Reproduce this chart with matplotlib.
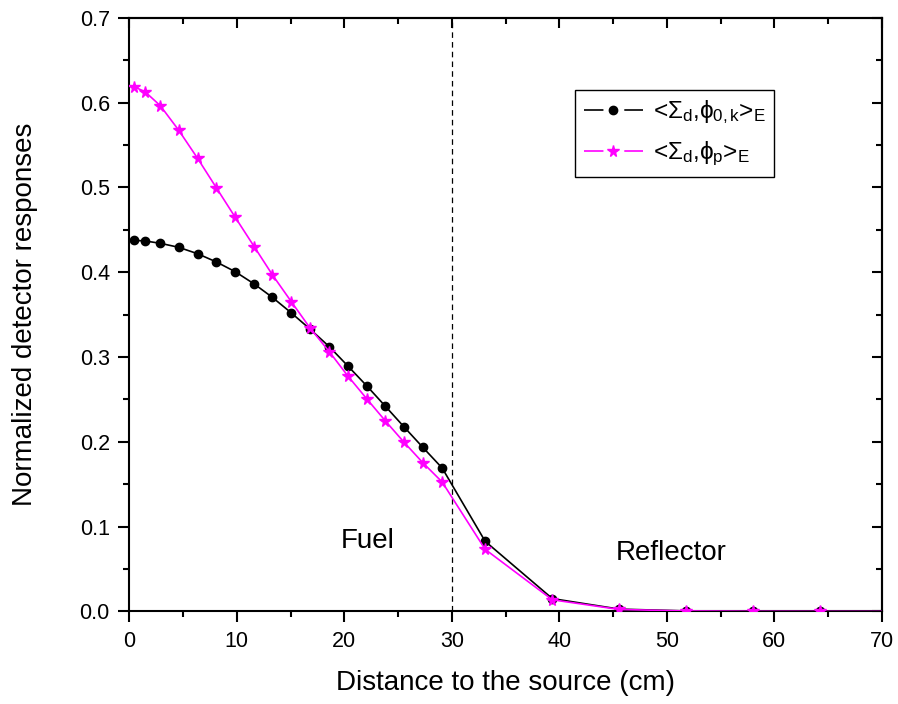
import numpy as np
import matplotlib
matplotlib.use('Agg')
import matplotlib.pyplot as plt
from matplotlib.lines import Line2D
from matplotlib.ticker import MultipleLocator

plt.rcParams['font.family'] = ['Liberation Sans', 'DejaVu Sans']
plt.rcParams['mathtext.fontset'] = 'custom'
plt.rcParams['mathtext.rm'] = 'Liberation Sans'
plt.rcParams['mathtext.it'] = 'Liberation Sans'
plt.rcParams['lines.scale_dashes'] = False

# distance to source (cm)
x_fuel = [0.46, 1.49, 2.88, 4.58, 6.35, 8.11, 9.85, 11.62, 13.3, 15.06,
          16.83, 18.6, 20.33, 22.1, 23.82, 25.56, 27.3, 29.1]
x_refl = [33.1, 39.35, 45.58, 51.81, 58.04, 64.27, 70.0]
distance = x_fuel + x_refl

# <Sigma_d, phi_0,k>_E
resp_k = [0.4377, 0.4369, 0.4342, 0.4295, 0.4219, 0.4121, 0.4007, 0.3862, 0.3705, 0.3522,
          0.3328, 0.3123, 0.2895, 0.2659, 0.2420, 0.2176, 0.1936, 0.1692,
          0.0828, 0.0152, 0.0028, 0.0007, 0.0003, 0.0001, 0.0]
# <Sigma_d, phi_p>_E
resp_p = [0.6189, 0.6126, 0.5965, 0.5678, 0.5344, 0.4994, 0.4649, 0.4302, 0.3972, 0.3655,
          0.3340, 0.3064, 0.2777, 0.2506, 0.2247, 0.1995, 0.1755, 0.1527,
          0.0733, 0.0138, 0.0024, 0.0006, 0.0002, 0.0001, 0.0]

label_k = r'<$\Sigma_\mathrm{d}$,$\phi_\mathrm{0,k}$>$_\mathrm{E}$'
label_p = r'<$\Sigma_\mathrm{d}$,$\phi_\mathrm{p}$>$_\mathrm{E}$'

# no marker on the end point at the right edge
marks = list(range(len(distance) - 1))

fig = plt.figure(figsize=(8.98, 7.04), dpi=100)
ax = fig.add_axes([0.144, 0.1314, 0.838, 0.8432])

ax.plot(distance, resp_k, color='black', lw=1.2, marker='o', markersize=6,
        markevery=marks, zorder=3)
ax.plot(distance, resp_p, color='magenta', lw=1.2, marker='*', markersize=8.5,
        markevery=marks, zorder=4)

ax.axvline(30, color='black', ls='--', lw=0.9, dashes=(4, 3))

ax.text(22.2, 0.075, 'Fuel', fontsize=20, ha='center', va='baseline')
ax.text(50.45, 0.061, 'Reflector', fontsize=20, ha='center', va='baseline')

ax.set_xlim(0, 70)
ax.set_ylim(0, 0.7)
ax.xaxis.set_major_locator(MultipleLocator(10))
ax.xaxis.set_minor_locator(MultipleLocator(5))
ax.yaxis.set_major_locator(MultipleLocator(0.1))
ax.yaxis.set_minor_locator(MultipleLocator(0.05))
ax.yaxis.set_major_formatter(plt.FormatStrFormatter('%.1f'))

for s in ax.spines.values():
    s.set_linewidth(1.5)
ax.tick_params(which='both', direction='out', width=1.5, labelsize=15.5, pad=6)
ax.tick_params(which='major', length=8)
ax.tick_params(which='minor', length=4.5)

# top and right: inward ticks, no labels
top = ax.secondary_xaxis('top')
top.xaxis.set_major_locator(MultipleLocator(10))
top.xaxis.set_minor_locator(MultipleLocator(5))
top.tick_params(which='both', direction='in', width=1.5, labeltop=False)
top.tick_params(which='major', length=7)
top.tick_params(which='minor', length=4.5)
right = ax.secondary_yaxis('right')
right.yaxis.set_major_locator(MultipleLocator(0.1))
right.yaxis.set_minor_locator(MultipleLocator(0.05))
right.tick_params(which='both', direction='in', width=1.5, labelright=False)
right.tick_params(which='major', length=7)
right.tick_params(which='minor', length=4.5)
top.spines['top'].set_linewidth(1.5)
right.spines['right'].set_linewidth(1.5)

ax.set_xlabel('Distance to the source (cm)', fontsize=20)
ax.set_ylabel('Normalized detector responses', fontsize=20)
ax.xaxis.set_label_coords(0.5, -0.0985)
ax.yaxis.set_label_coords(-0.121, 0.5)

# Origin-style legend keys: line - marker - line
key_k = Line2D([], [], color='black', lw=1.2, marker='o', markersize=6,
               linestyle=(0, (14, 15, 40)))
key_p = Line2D([], [], color='magenta', lw=1.2, marker='*', markersize=8.5,
               linestyle=(0, (14, 15, 40)))
leg = ax.legend([key_k, key_p], [label_k, label_p], loc='upper right',
                bbox_to_anchor=(0.857, 0.8785), borderaxespad=0, fontsize=17.5,
                frameon=True, fancybox=False, framealpha=1, edgecolor='black',
                handlelength=2.45, borderpad=0.35, labelspacing=0.55, handletextpad=0.4,
                numpoints=1)
leg.get_frame().set_linewidth(1.0)

fig.savefig('out.png', dpi=100)
